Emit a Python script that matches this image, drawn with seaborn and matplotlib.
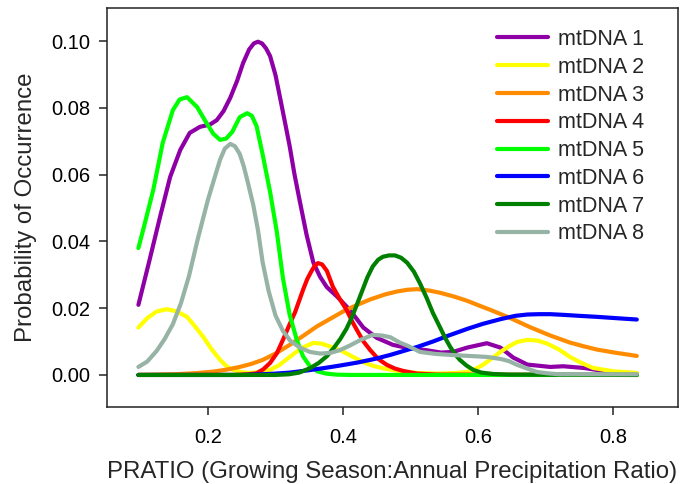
import matplotlib
matplotlib.use("Agg")
import matplotlib.pyplot as plt
import seaborn as sns

# ── Data ──────────────────────────────────────────────────────────────────
x1 = [0.097, 0.113, 0.129, 0.144, 0.159, 0.173, 0.188, 0.203, 0.213, 0.223,
      0.233, 0.243, 0.252, 0.261, 0.268, 0.274, 0.28, 0.286, 0.292, 0.3,
      0.307, 0.314, 0.321, 0.328, 0.336, 0.346, 0.356, 0.366, 0.376, 0.391,
      0.41, 0.43, 0.45, 0.474, 0.495, 0.524, 0.545, 0.563, 0.584, 0.613,
      0.633, 0.652, 0.673, 0.707, 0.726, 0.756, 0.796, 0.835]
y1 = [0.021, 0.034, 0.0473, 0.0593, 0.0674, 0.0725, 0.0743, 0.075, 0.0763, 0.079,
      0.083, 0.088, 0.0934, 0.0975, 0.0993, 0.0998, 0.0993, 0.0978, 0.0955, 0.0898,
      0.0828, 0.0757, 0.0685, 0.0602, 0.052, 0.042, 0.0337, 0.0294, 0.0263, 0.0235,
      0.0195, 0.0142, 0.0111, 0.009, 0.0081, 0.0074, 0.0067, 0.0069, 0.0082, 0.0095,
      0.0082, 0.0052, 0.0031, 0.0024, 0.0026, 0.0021, 0.0009, 0.0005]

x2 = [0.097, 0.11, 0.124, 0.139, 0.154, 0.169, 0.181, 0.193, 0.205, 0.218,
      0.228, 0.237, 0.25, 0.262, 0.277, 0.292, 0.306, 0.321, 0.338, 0.356,
      0.368, 0.381, 0.396, 0.413, 0.43, 0.445, 0.459, 0.475, 0.49, 0.51,
      0.54, 0.569, 0.584, 0.596, 0.607, 0.62, 0.633, 0.646, 0.658, 0.673,
      0.688, 0.702, 0.72, 0.736, 0.753, 0.77, 0.8, 0.835]
y2 = [0.0142, 0.017, 0.019, 0.0197, 0.019, 0.0174, 0.0145, 0.0114, 0.0078, 0.0045,
      0.0025, 0.0015, 0.0008, 0.0006, 0.0009, 0.0015, 0.003, 0.0054, 0.008, 0.0096,
      0.0094, 0.0085, 0.0074, 0.0056, 0.0038, 0.0027, 0.002, 0.0014, 0.0009, 0.0006,
      0.0004, 0.0006, 0.0009, 0.0018, 0.003, 0.0049, 0.0069, 0.0086, 0.0099, 0.0105,
      0.0103, 0.0094, 0.0076, 0.0054, 0.0036, 0.0021, 0.0011, 0.0006]

x3 = [0.097, 0.15, 0.18, 0.208, 0.228, 0.247, 0.264, 0.281, 0.3, 0.321,
      0.341, 0.361, 0.381, 0.4, 0.42, 0.44, 0.462, 0.48, 0.495, 0.51,
      0.527, 0.544, 0.564, 0.584, 0.6, 0.618, 0.647, 0.677, 0.707, 0.736,
      0.756, 0.776, 0.805, 0.835]
y3 = [0.0, 0.0002, 0.0005, 0.001, 0.0016, 0.0024, 0.0033, 0.0045, 0.0064, 0.009,
      0.0117, 0.0145, 0.0168, 0.019, 0.0209, 0.0226, 0.0241, 0.025, 0.0255, 0.0257,
      0.0253, 0.0246, 0.0235, 0.0222, 0.0209, 0.0195, 0.0171, 0.0143, 0.0118, 0.0097,
      0.0086, 0.0076, 0.0066, 0.0057]

x4 = [0.097, 0.24, 0.26, 0.272, 0.282, 0.292, 0.302, 0.311, 0.321, 0.329,
      0.335, 0.341, 0.347, 0.353, 0.358, 0.363, 0.369, 0.376, 0.385, 0.395,
      0.406, 0.413, 0.421, 0.43, 0.44, 0.452, 0.465, 0.477, 0.489, 0.51,
      0.54, 0.835]
y4 = [0.0, 0.0, 0.0002, 0.0005, 0.0017, 0.0036, 0.0065, 0.0105, 0.0152, 0.0188,
      0.0222, 0.0256, 0.0287, 0.031, 0.0327, 0.0335, 0.0331, 0.0312, 0.0264, 0.0228,
      0.0192, 0.0162, 0.0133, 0.0101, 0.0075, 0.0048, 0.003, 0.0019, 0.0012, 0.0004,
      0.0001, 0.0]

x5 = [0.097, 0.104, 0.119, 0.133, 0.148, 0.158, 0.169, 0.184, 0.198, 0.208,
      0.218, 0.227, 0.236, 0.247, 0.258, 0.265, 0.272, 0.281, 0.292, 0.302,
      0.311, 0.321, 0.332, 0.341, 0.351, 0.362, 0.375, 0.39, 0.41, 0.835]
y5 = [0.038, 0.0434, 0.0554, 0.0695, 0.0793, 0.0825, 0.0832, 0.0802, 0.0754, 0.0722,
      0.0704, 0.0708, 0.0728, 0.0772, 0.0784, 0.0776, 0.0745, 0.066, 0.0548, 0.0428,
      0.029, 0.018, 0.0102, 0.0055, 0.0026, 0.0011, 0.0004, 0.0001, 0.0, 0.0]

x6 = [0.097, 0.25, 0.28, 0.3, 0.321, 0.345, 0.37, 0.395, 0.421, 0.447,
      0.47, 0.49, 0.51, 0.533, 0.555, 0.584, 0.607, 0.633, 0.655, 0.673,
      0.69, 0.707, 0.726, 0.75, 0.776, 0.805, 0.835]
y6 = [0.0, 0.0, 0.0002, 0.0004, 0.0007, 0.0013, 0.002, 0.0028, 0.0037, 0.0048,
      0.006, 0.0072, 0.0084, 0.01, 0.0117, 0.0138, 0.0153, 0.0167, 0.0177, 0.0181,
      0.0182, 0.0182, 0.018, 0.0177, 0.0174, 0.017, 0.0166]

x7 = [0.097, 0.3, 0.32, 0.335, 0.351, 0.364, 0.376, 0.386, 0.396, 0.405,
      0.413, 0.42, 0.428, 0.436, 0.444, 0.452, 0.459, 0.468, 0.477, 0.486,
      0.495, 0.505, 0.514, 0.524, 0.533, 0.544, 0.552, 0.559, 0.566, 0.573,
      0.583, 0.593, 0.605, 0.622, 0.645, 0.835]
y7 = [0.0, 0.0, 0.0002, 0.0007, 0.002, 0.0036, 0.0056, 0.008, 0.0108, 0.0138,
      0.0172, 0.0208, 0.025, 0.0292, 0.0325, 0.0345, 0.0354, 0.0358, 0.0358, 0.0351,
      0.0336, 0.0309, 0.0274, 0.023, 0.0186, 0.0141, 0.0108, 0.0083, 0.0062, 0.0045,
      0.0028, 0.0015, 0.0007, 0.0003, 0.0001, 0.0]

x8 = [0.097, 0.11, 0.124, 0.136, 0.148, 0.16, 0.172, 0.185, 0.2, 0.21,
      0.218, 0.225, 0.233, 0.24, 0.247, 0.253, 0.259, 0.267, 0.274, 0.281,
      0.29, 0.3, 0.311, 0.322, 0.336, 0.351, 0.366, 0.381, 0.395, 0.41,
      0.427, 0.444, 0.458, 0.47, 0.484, 0.495, 0.514, 0.537, 0.559, 0.586,
      0.613, 0.633, 0.645, 0.658, 0.673, 0.687, 0.702, 0.72, 0.835]
y8 = [0.0024, 0.004, 0.0072, 0.0108, 0.0152, 0.0215, 0.0297, 0.0408, 0.0525, 0.0592,
      0.0645, 0.0678, 0.0692, 0.0685, 0.0662, 0.0625, 0.0577, 0.051, 0.0434, 0.0337,
      0.025, 0.0178, 0.0132, 0.0102, 0.0082, 0.0069, 0.0064, 0.0066, 0.0074, 0.0088,
      0.0106, 0.012, 0.0118, 0.0113, 0.0097, 0.0088, 0.0069, 0.0063, 0.006, 0.0057,
      0.0054, 0.0048, 0.0042, 0.003, 0.0019, 0.0009, 0.0005, 0.0002, 0.0002]

SERIES = [
    ("mtDNA 1", x1, y1, "#8e00a6"),
    ("mtDNA 2", x2, y2, "#ffff00"),
    ("mtDNA 3", x3, y3, "#ff8c00"),
    ("mtDNA 4", x4, y4, "#ff0000"),
    ("mtDNA 5", x5, y5, "#00ff00"),
    ("mtDNA 6", x6, y6, "#0000ff"),
    ("mtDNA 7", x7, y7, "#008000"),
    ("mtDNA 8", x8, y8, "#96b3a6"),
]

x_ticks = [0.2, 0.4, 0.6, 0.8]
y_ticks = [0.00, 0.02, 0.04, 0.06, 0.08, 0.10]

# ── Style ──────────────────────────────────────────────────────────────────
sns.set_style("ticks")
plt.rcParams["font.family"] = ["Liberation Sans", "DejaVu Sans"]

fig = plt.figure(figsize=(6.8, 4.84), dpi=100)
ax = fig.add_axes([107 / 680, 1 - 407 / 484, 571 / 680, 399 / 484])

for label, xs, ys, color in SERIES:
    sns.lineplot(x=xs, y=ys, color=color, lw=3.0, label=label, ax=ax,
                 sort=False, estimator=None)

ax.set_xlim(0.0505, 0.896)
ax.set_ylim(-0.0096, 0.1099)
ax.set_xticks(x_ticks)
ax.set_xticklabels([f"{t:.1f}" for t in x_ticks])
ax.set_yticks(y_ticks)
ax.set_yticklabels([f"{t:.2f}" for t in y_ticks])

for side in ("left", "right", "top", "bottom"):
    ax.spines[side].set_visible(True)
    ax.spines[side].set_linewidth(1.1)
    ax.spines[side].set_color("#222222")

ax.tick_params(axis="both", direction="out", length=6, width=1.1,
               colors="#222222", labelcolor="black", labelsize=14.5)
ax.tick_params(axis="x", pad=9)
ax.tick_params(axis="y", pad=6)

ax.set_xlabel("PRATIO (Growing Season:Annual Precipitation Ratio)",
              fontsize=17.3, labelpad=10)
ax.set_ylabel("Probability of Occurrence", fontsize=17.3, labelpad=10)

leg = ax.legend(loc="upper left", bbox_to_anchor=(497 / 680, 1 - 29 / 484),
                bbox_transform=fig.transFigure, frameon=False, fontsize=15.5,
                handlelength=2.35, handletextpad=0.5, labelspacing=0.315,
                borderpad=0, borderaxespad=0)

fig.savefig("out.png", dpi=100)
